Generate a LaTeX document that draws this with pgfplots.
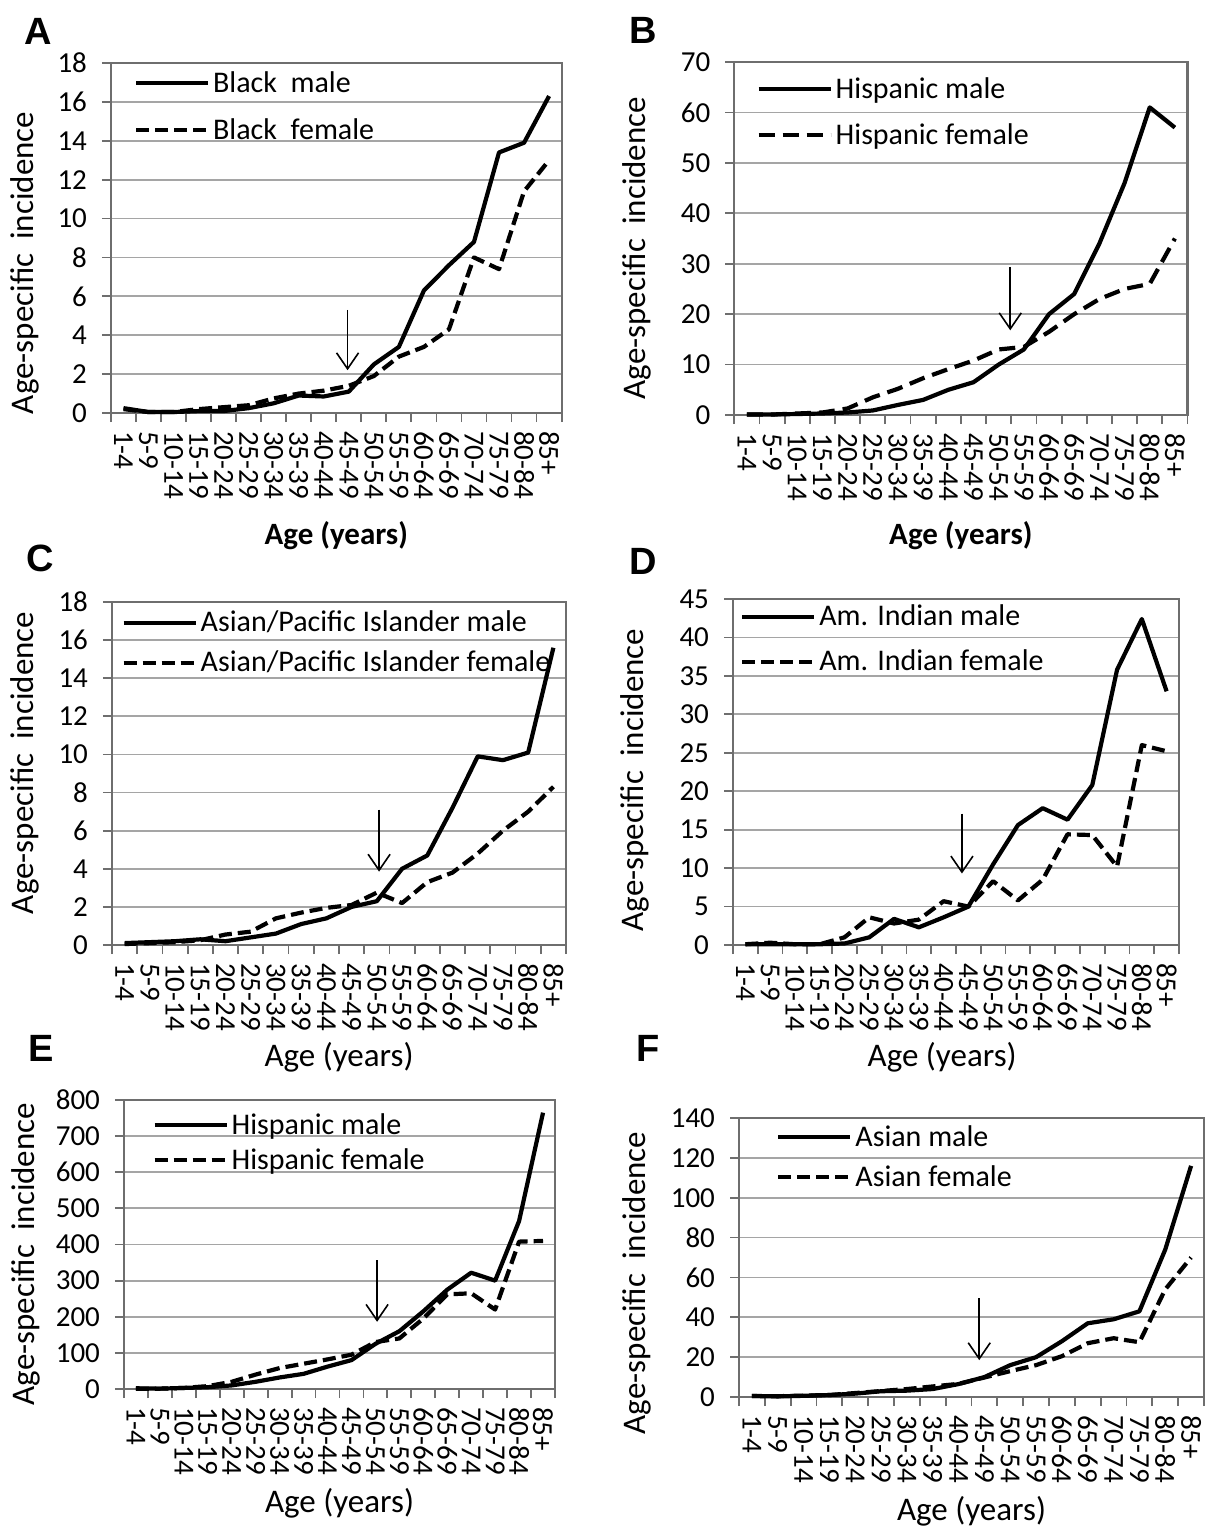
\documentclass[border=0pt]{standalone}
\usepackage{fontspec}
\setmainfont{Carlito}
\newfontfamily\letterfont{Liberation Sans}
\usepackage{pgfplots}
\pgfplotsset{compat=1.18}
\usetikzlibrary{arrows.meta}
\definecolor{gridgray}{RGB}{165,165,165}
\definecolor{framegray}{RGB}{110,110,110}
\newcommand{\tickfont}{\fontsize{14.5}{16}\selectfont}
\newcommand{\legfont}{\fontsize{15}{17}\selectfont}
\newcommand{\labfont}{\fontsize{16.5}{19}\selectfont}
\newcommand{\ylab}{Age-specific\hspace{7pt}incidence}
\pgfplotsset{
  panel/.style={
    scale only axis, anchor=south west, clip=false,
    xmin=-0.5, xmax=17.5, ymin=0,
    xtick={-0.5,0.5,1.5,2.5,3.5,4.5,5.5,6.5,7.5,8.5,9.5,10.5,11.5,12.5,13.5,14.5,15.5,16.5,17.5},
    x tick label as interval,
    xticklabels={1-4,5-9,10-14,15-19,20-24,25-29,30-34,35-39,40-44,45-49,50-54,55-59,60-64,65-69,70-74,75-79,80-84,85+},
    tick align=outside, tick pos=left,
    major tick length=4.5pt,
    tick style={framegray, line width=0.9pt},
    ymajorgrids, grid style={gridgray, line width=0.9pt},
    axis line style={framegray, line width=1.1pt},
    /pgf/number format/assume math mode=true,
    yticklabel style={font=\tickfont, xshift=-4pt},
    xticklabel style={font=\tickfont, rotate=-90, anchor=west, xshift=1pt},
    ylabel style={font=\labfont, anchor=center},
    xlabel style={font=\labfont, anchor=center},
    legend cell align=left,
    legend image code/.code={\draw[##1, line width=2.1pt] (0pt,0pt) -- (36pt,0pt);},
    legend style={draw=none, fill=none, inner sep=0pt, outer sep=0pt, anchor=north west, font=\legfont,
      nodes={text height=11pt, text depth=2pt, inner ysep=0pt, inner xsep=1.5pt}},
  },
  male/.style={black, line width=2.1pt, line join=round},
  female/.style={black, line width=2.1pt, line join=round, dash pattern=on 6.5pt off 3pt},
  arr/.style={black, line width=0.8pt, -{Straight Barb[length=8pt,width=11pt]}, forget plot},
}
\begin{document}
\begin{tikzpicture}
\useasboundingbox (0pt,0pt) rectangle (603.5pt,-764pt);
% ---------- A ----------
\begin{axis}[panel, at={(55.5pt,-206.5pt)}, width=225.3pt, height=175pt,
  ymax=18, ytick={0,2,...,18},
  ylabel={\ylab}, ylabel style={at={(axis description cs:-0.191,0.429)}},
  xlabel={\bfseries\fontsize{15.5}{18}\selectfont Age (years)}, xlabel style={at={(axis description cs:0.5,-0.351)}},
  legend style={at={(axis description cs:0.051,0.98)}, row sep=10.5pt}]
\addplot[male] coordinates {(0,0.25)(1,0.05)(2,0.05)(3,0.1)(4,0.1)(5,0.25)(6,0.5)(7,0.9)(8,0.85)(9,1.1)(10,2.5)(11,3.4)(12,6.3)(13,7.6)(14,8.8)(15,13.4)(16,13.9)(17,16.3)};
\addlegendentry{Black~~male}
\addplot[female] coordinates {(0,0.2)(1,0.05)(2,0.05)(3,0.2)(4,0.3)(5,0.4)(6,0.75)(7,1.0)(8,1.15)(9,1.4)(10,1.9)(11,2.9)(12,3.4)(13,4.3)(14,8.0)(15,7.4)(16,11.4)(17,13.0)};
\addlegendentry{Black~~female}
\addplot[arr] coordinates {(8.95,5.3)(8.95,2.2)};
\end{axis}
% ---------- B ----------
\begin{axis}[panel, at={(367.15pt,-207.5pt)}, width=226.6pt, height=176.5pt,
  ymax=70, ytick={0,10,...,70},
  ylabel={\ylab}, ylabel style={at={(axis description cs:-0.215,0.473)}},
  xlabel={\bfseries\fontsize{15.5}{18}\selectfont Age (years)}, xlabel style={at={(axis description cs:0.5,-0.343)}},
  legend style={at={(axis description cs:0.049,0.960)}, row sep=10pt}]
\addplot[male] coordinates {(0,0.1)(1,0.1)(2,0.2)(3,0.3)(4,0.5)(5,0.9)(6,2.0)(7,3.0)(8,5.0)(9,6.5)(10,10)(11,13)(12,20)(13,24)(14,34)(15,46)(16,61)(17,57)};
\addlegendentry{Hispanic male}
\addplot[female, dash pattern=on 8pt off 4pt] coordinates {(0,0.1)(1,0.1)(2,0.3)(3,0.5)(4,1.3)(5,3.5)(6,5.2)(7,7.3)(8,9.1)(9,10.8)(10,13)(11,13.5)(12,16.5)(13,20)(14,23)(15,25)(16,26)(17,35)};
\addlegendentry{Hispanic female}
\addplot[arr] coordinates {(10.46,29.4)(10.46,16.8)};
\end{axis}
% ---------- C ----------
\begin{axis}[panel, at={(56pt,-472.5pt)}, width=227pt, height=171.5pt,
  ymax=18, ytick={0,2,...,18},
  ylabel={\ylab}, ylabel style={at={(axis description cs:-0.192,0.531)}},
  xlabel={Age (years)}, xlabel style={at={(axis description cs:0.5,-0.327)}},
  legend style={at={(axis description cs:0.021,0.977)}, row sep=7pt}]
\addplot[male] coordinates {(0,0.1)(1,0.15)(2,0.2)(3,0.3)(4,0.2)(5,0.4)(6,0.6)(7,1.1)(8,1.4)(9,2.0)(10,2.3)(11,4.0)(12,4.7)(13,7.2)(14,9.9)(15,9.7)(16,10.1)(17,15.6)};
\addlegendentry{Asian/Pacific Islander male}
\addplot[female] coordinates {(0,0.05)(1,0.1)(2,0.15)(3,0.25)(4,0.55)(5,0.7)(6,1.4)(7,1.7)(8,1.95)(9,2.1)(10,2.75)(11,2.2)(12,3.3)(13,3.8)(14,4.8)(15,6.0)(16,7.0)(17,8.3)};
\addlegendentry{Asian/Pacific Islander female}
\addplot[arr] coordinates {(10.09,7.1)(10.09,3.85)};
\end{axis}
% ---------- D ----------
\begin{axis}[panel, at={(366.5pt,-472.5pt)}, width=223pt, height=173pt,
  ymax=45, ytick={0,5,...,45},
  ylabel={\ylab}, ylabel style={at={(axis description cs:-0.220,0.477)}},
  xlabel={Age (years)}, xlabel style={at={(axis description cs:0.469,-0.324)}},
  legend style={at={(axis description cs:0.016,0.986)}, row sep=9.5pt}]
\addplot[male] coordinates {(0,0.1)(1,0.1)(2,0.1)(3,0.1)(4,0.2)(5,1.0)(6,3.4)(7,2.3)(8,3.6)(9,5.0)(10,10.5)(11,15.6)(12,17.8)(13,16.3)(14,20.8)(15,35.8)(16,42.4)(17,33)};
\addlegendentry{Am. Indian male}
\addplot[female] coordinates {(0,0.1)(1,0.3)(2,0.1)(3,0.1)(4,1.0)(5,3.6)(6,2.8)(7,3.3)(8,5.7)(9,5.0)(10,8.3)(11,5.8)(12,8.5)(13,14.4)(14,14.3)(15,10.2)(16,26.0)(17,25.2)};
\addlegendentry{Am. Indian female}
\addplot[arr] coordinates {(8.74,17.1)(8.74,9.3)};
\end{axis}
% ---------- E ----------
\begin{axis}[panel, at={(62pt,-694.5pt)}, width=215.5pt, height=144.5pt,
  ymax=800, ytick={0,100,...,800},
  ylabel={\ylab}, ylabel style={at={(axis description cs:-0.227,0.467)}},
  xlabel={Age (years)}, xlabel style={at={(axis description cs:0.5,-0.394)}},
  legend style={at={(axis description cs:0.066,0.958)}, row sep=4.5pt}]
\addplot[male] coordinates {(0,2)(1,1)(2,3)(3,5)(4,10)(5,20)(6,32)(7,42)(8,62)(9,80)(10,125)(11,160)(12,215)(13,275)(14,322)(15,300)(16,465)(17,765)};
\addlegendentry{Hispanic male}
\addplot[female] coordinates {(0,1)(1,1)(2,3)(3,8)(4,20)(5,40)(6,58)(7,70)(8,82)(9,95)(10,130)(11,140)(12,195)(13,262)(14,265)(15,220)(16,408)(17,410)};
\addlegendentry{Hispanic female}
\addplot[arr] coordinates {(10.07,357)(10.07,186)};
\end{axis}
% ---------- F ----------
\begin{axis}[panel, at={(369.5pt,-698.5pt)}, width=232.5pt, height=139.5pt,
  ymax=140, ytick={0,20,...,140},
  ylabel={\ylab}, ylabel style={at={(axis description cs:-0.219,0.409)}},
  xlabel={Age (years)}, xlabel style={at={(axis description cs:0.5,-0.409)}},
  legend style={at={(axis description cs:0.080,0.978)}, row sep=7pt}]
\addplot[male] coordinates {(0,0.5)(1,0.3)(2,0.6)(3,1.0)(4,1.7)(5,2.9)(6,3.2)(7,4.0)(8,6.5)(9,10)(10,16)(11,20)(12,28)(13,37)(14,39)(15,43)(16,74)(17,116)};
\addlegendentry{Asian male}
\addplot[female] coordinates {(0,0.5)(1,0.4)(2,0.7)(3,1.0)(4,2.0)(5,3.0)(6,4.0)(7,5.3)(8,6.6)(9,9.8)(10,13)(11,16)(12,20.5)(13,27)(14,29.5)(15,27.5)(16,54)(17,70)};
\addlegendentry{Asian female}
\addplot[arr] coordinates {(8.8,49.5)(8.8,18.5)};
\end{axis}
% ---------- panel letters ----------
\begin{scope}[every node/.style={font=\letterfont\bfseries\fontsize{19}{21}\selectfont, inner sep=0pt}]
\node at (19pt,-15.5pt) {A};
\node at (321.5pt,-15pt) {B};
\node at (20pt,-279pt) {C};
\node at (321.5pt,-280.5pt) {D};
\node at (20.5pt,-524pt) {E};
\node at (324pt,-524pt) {F};
\end{scope}
\end{tikzpicture}
\end{document}
